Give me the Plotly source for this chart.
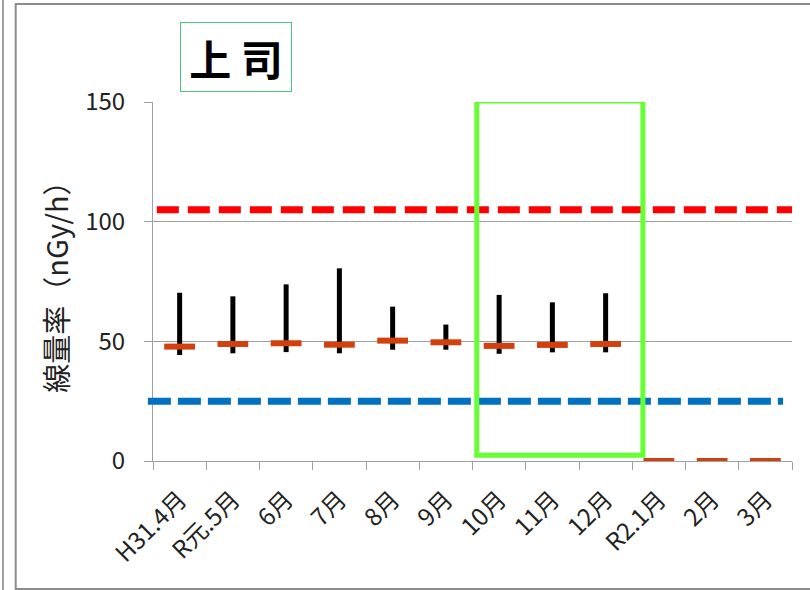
import plotly.graph_objects as go

months = ["H31.4月", "R元.5月", "6月", "7月", "8月", "9月", "10月", "11月", "12月", "R2.1月", "2月", "3月"]
max_vals = [70.3, 68.8, 73.8, 80.5, 64.5, 57.0, 69.4, 66.3, 70.1, None, None, None]
min_vals = [44.3, 45.0, 45.5, 45.0, 46.5, 46.5, 44.8, 45.4, 45.4, None, None, None]
mean_vals = [47.8, 48.9, 49.2, 48.6, 50.3, 49.6, 48.1, 48.5, 48.9, 0, 0, 0]
upper_ref = 105
lower_ref = 25
title_text = "上 司"
y_title = "線量率（nGy/h）"
y_ticks = [0, 50, 100, 150]

FONT = "Noto Sans CJK JP"

# range bars
rx, ry = [], []
for m, lo, hi in zip(months, min_vals, max_vals):
    if lo is None or hi is None:
        continue
    rx += [m, m, None]
    ry += [lo, hi, None]

fig = go.Figure()
fig.add_trace(go.Scatter(x=rx, y=ry, mode="lines", line=dict(color="black", width=5),
                         hoverinfo="skip", showlegend=False))
fig.add_trace(go.Scatter(x=months, y=mean_vals, mode="markers",
                         marker=dict(symbol="line-ew", size=22,
                                     line=dict(color="#D2400E", width=6)),
                         showlegend=False, cliponaxis=True))

# reference lines
fig.add_shape(type="line", xref="paper", yref="y", x0=0.006, x1=1.0, y0=upper_ref, y1=upper_ref,
              line=dict(color="#FF0000", width=7, dash="22px,9px"))
fig.add_shape(type="line", xref="paper", yref="y", x0=-0.008, x1=0.986, y0=lower_ref, y1=lower_ref,
              line=dict(color="#0070C0", width=7, dash="23px,7px"))

# highlight box
fig.add_shape(type="rect", xref="x", yref="y", x0=5.58, x1=8.70, y0=2.4, y1=150.4,
              line=dict(color="#66FF33", width=5))

# outer frames
fig.add_shape(type="rect", xref="paper", yref="paper",
              x0=(15.7 - 153) / 639, x1=1.1, y0=(461 - 589) / 359, y1=(461 - 4) / 359,
              line=dict(color="#8C8C8C", width=2), layer="below")
fig.add_shape(type="line", xref="paper", yref="paper",
              x0=(3 - 153) / 639, x1=(3 - 153) / 639, y0=-1, y1=2,
              line=dict(color="#A0A0A0", width=2))

fig.add_annotation(text=title_text, xref="paper", yref="paper",
                   x=(236 - 153) / 639, y=(461 - 56.7) / 359, showarrow=False,
                   xanchor="center", yanchor="middle",
                   font=dict(family=FONT, size=42, color="black", weight="bold"),
                   bordercolor="#4CC47C", borderwidth=1, borderpad=6,
                   width=98, height=56)
fig.add_annotation(text=y_title, xref="paper", yref="paper",
                   x=(55 - 153) / 639, y=0.505, textangle=-90, showarrow=False,
                   xanchor="center", yanchor="middle",
                   font=dict(family=FONT, size=29, color="#222222"))

fig.update_layout(
    width=810, height=590,
    margin=dict(l=153, r=18, t=102, b=129),
    plot_bgcolor="white", paper_bgcolor="white",
    font=dict(family=FONT, color="#222222"),
    xaxis=dict(type="category", categoryorder="array", categoryarray=months,
               range=[-0.5, 11.5], tickangle=-45, tickson="boundaries",
               ticks="outside", ticklen=8, tickcolor="#A0A0A0", automargin=False,
               showline=True, linecolor="#A0A0A0", linewidth=1,
               ticklabelstandoff=14,
               showgrid=False, tickfont=dict(size=24, family=FONT, color="#222222")),
    yaxis=dict(range=[0, 150], tickvals=y_ticks, ticks="outside", ticklen=8,
               tickcolor="#A0A0A0", showline=True, linecolor="#A0A0A0", automargin=False,
               showgrid=True, gridcolor="#A0A0A0", gridwidth=1, zeroline=False,
               ticklabelstandoff=14,
               tickfont=dict(size=24, family=FONT, color="#222222")),
)

fig.write_html("out.html", config={"displayModeBar": False},
               post_script="document.body.style.margin='0';")
